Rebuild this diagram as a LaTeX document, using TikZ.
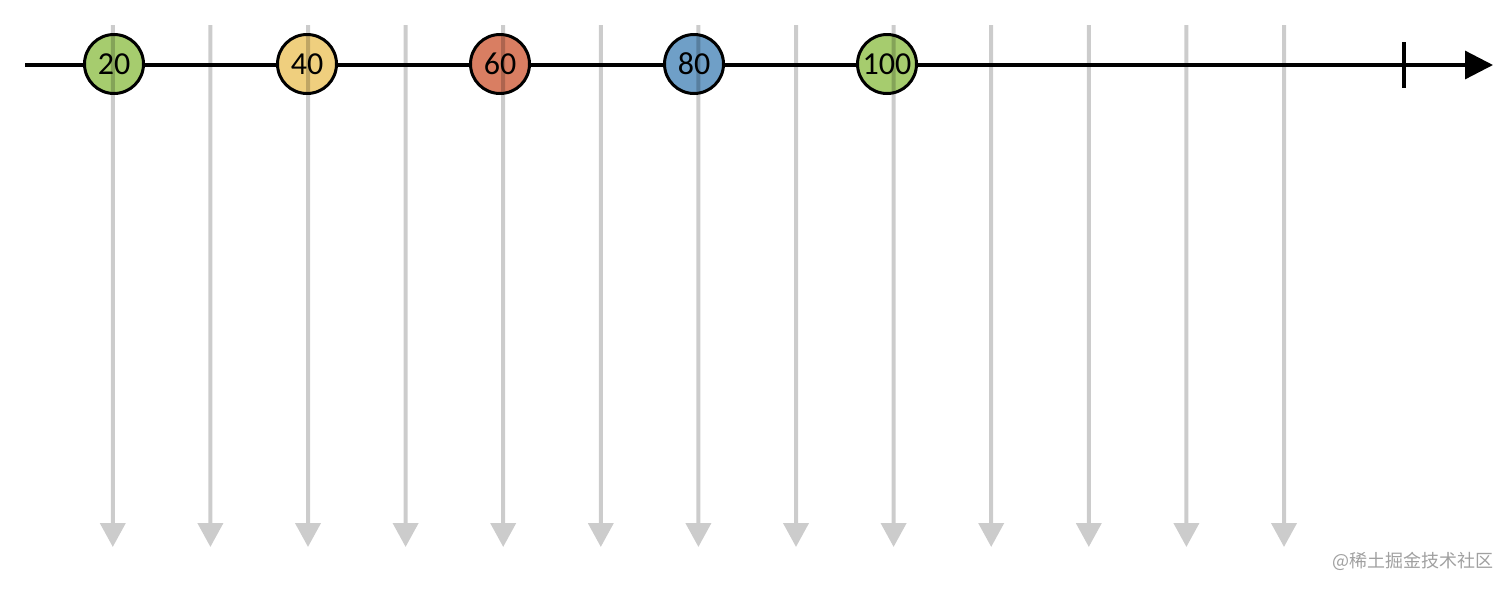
\documentclass[tikz,border=0pt]{standalone}
\usepackage{fontspec}
\setmainfont{Carlito}
\newfontfamily\cjk{Noto Sans CJK SC}
\usetikzlibrary{arrows.meta}
\definecolor{cgreen}{HTML}{A6CC6E}
\definecolor{cyellow}{HTML}{EFCF7E}
\definecolor{cred}{HTML}{D97E62}
\definecolor{cblue}{HTML}{6F9FC7}
\definecolor{wmgray}{HTML}{A0A0A0}
\tikzset{
  marble/.style={circle, draw=black, line width=3pt, minimum size=59pt, inner sep=0pt, font=\fontsize{32}{32}\selectfont},
  axisline/.style={line width=3.2pt, -{Triangle[length=28pt,width=28pt]}},
  tickline/.style={line width=3.2pt},
  gridarrow/.style={black, line width=4pt, -{Triangle[length=24pt,width=25pt]}},
}
\begin{document}
\begin{tikzpicture}[x=1pt,y=-1pt]
\useasboundingbox (0,0) rectangle (1512,590);
\coordinate (axstart) at (25,65);
\coordinate (axend) at (1493,65);
\coordinate (ticktop) at (1404,42);
\coordinate (tickbot) at (1404,88);
\draw[axisline] (axstart) -- (axend);
\draw[tickline] (ticktop) -- (tickbot);
\node[marble, fill=cgreen] (c20) at (114,64) {20};
\node[marble, fill=cyellow] (c40) at (307,64) {40};
\node[marble, fill=cred] (c60) at (500,64) {60};
\node[marble, fill=cblue] (c80) at (694,64) {80};
\node[marble, fill=cgreen] (c100) at (887,64) {100};
\begin{scope}[transparency group, opacity=0.2]
\foreach \i in {0,...,12} {
  \coordinate (gt\i) at ({112.8+97.6*\i},25);
  \coordinate (gb\i) at ({112.8+97.6*\i},547);
  \draw[gridarrow] (gt\i) -- (gb\i);
}
\end{scope}
\node[text=wmgray, font=\cjk\fontsize{18}{18}\selectfont, anchor=east, inner sep=0pt] (wm) at (1494,561) {@稀土掘金技术社区};
\end{tikzpicture}
\end{document}
